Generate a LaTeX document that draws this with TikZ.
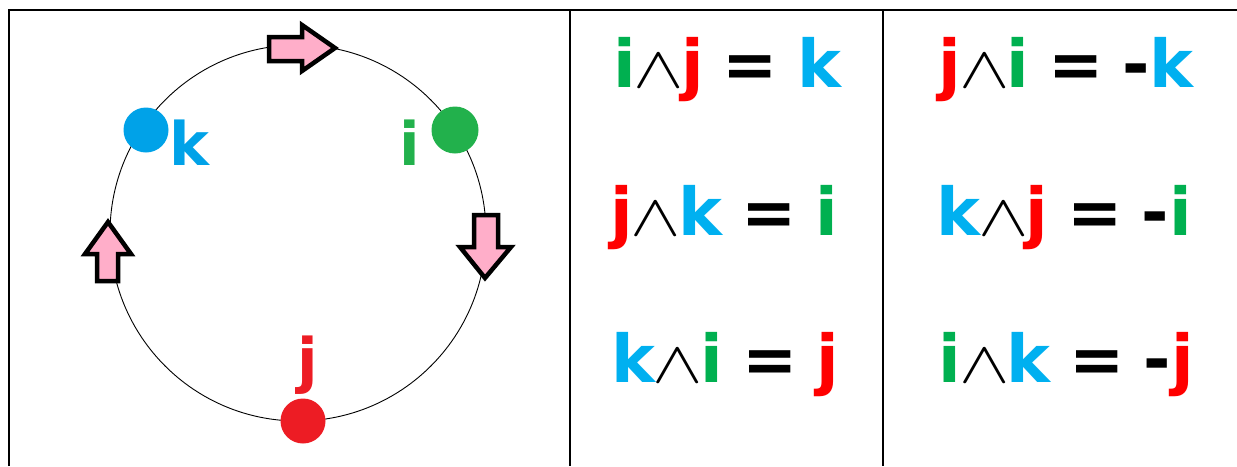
\documentclass[tikz,border=0pt]{standalone}
\usepackage{graphicx}
\usepackage{fontspec}
\setmainfont{DejaVu Sans}
\DeclareFontShape{OMS}{cmsy}{m}{n}{<->cmsy10}{}
\DeclareFontShape{OML}{cmm}{m}{it}{<->cmmi10}{}
\definecolor{eqg}{HTML}{00B050}
\definecolor{eqr}{HTML}{FF0000}
\definecolor{eqb}{HTML}{00B0F0}
\definecolor{dotb}{HTML}{00A2E8}
\definecolor{dotg}{HTML}{22B14C}
\definecolor{dotr}{HTML}{ED1C24}
\definecolor{pinkar}{HTML}{FFAEC9}
\newcommand{\eqtxt}{\fontsize{66}{70}\selectfont\bfseries}
\newcommand{\wdg}{\kern-2pt{\fontsize{62}{64}\selectfont\scalebox{1.22}[0.95]{$\wedge$}}\kern-3pt}
\newcommand{\eqsp}{\hspace{19pt}}
\begin{document}
\begin{tikzpicture}[x=1pt,y=-1pt,
  frame/.style={line width=2.5pt,black},
  divider/.style={line width=2pt,black},
  ring/.style={line width=0.9pt,black},
  dotstyle/.style={circle,inner sep=0pt,minimum size=45pt},
  lbl/.style={font=\fontsize{60}{64}\selectfont\bfseries,inner sep=0pt},
  eqn/.style={font=\eqtxt,inner sep=0pt,anchor=base},
  arrowshape/.style={draw=black,fill=pinkar,line width=4.5pt,line join=miter}]
\useasboundingbox (0,0) rectangle (1237,466);
% table frame
\draw[frame] (9,466) -- (9,10) -- (1237,10);
\draw[divider] (570,10) -- (570,466);
\draw[divider] (883,10) -- (883,466);
% circle
\node[circle,draw,ring,inner sep=0pt,minimum size=376pt] (ring) at (298,233) {};
% arrows
\draw[arrowshape] (269,37) -- (302,37) -- (302,25) -- (335,48) -- (302,71) -- (302,61) -- (269,61) -- cycle;
\draw[arrowshape] (474,215) -- (498,215) -- (498,247) -- (511,247) -- (485,278) -- (460,247) -- (474,247) -- cycle;
\draw[arrowshape] (97,281) -- (118,281) -- (118,254) -- (131,254) -- (108,222) -- (85,254) -- (97,254) -- cycle;
% dots
\node[dotstyle,fill=dotb] (dk) at (146,130) {};
\node[dotstyle,fill=dotg,minimum size=47pt] (di) at (455,130) {};
\node[dotstyle,fill=dotr] (dj) at (303,421) {};
% labels
\node[lbl,text=dotb,anchor=base west] (lk) at (169,165) {k};
\node[lbl,text=dotg,anchor=base] (li) at (410,165) {i};
\node[lbl,text=dotr,anchor=base] (lj) at (308,381) {j};
% equations column 2
\node[eqn] (e1) at (727,87) {\textcolor{eqg}{i}\wdg\textcolor{eqr}{j}\eqsp=\eqsp\textcolor{eqb}{k}};
\node[eqn] (e2) at (724,235) {\textcolor{eqr}{j}\wdg\textcolor{eqb}{k}\eqsp=\eqsp\textcolor{eqg}{i}};
\node[eqn] (e3) at (725,382) {\textcolor{eqb}{k}\wdg\textcolor{eqg}{i}\eqsp=\eqsp\textcolor{eqr}{j}};
% equations column 3
\node[eqn] (f1) at (1066,87) {\textcolor{eqr}{j}\wdg\textcolor{eqg}{i}\eqsp=\eqsp-\textcolor{eqb}{k}};
\node[eqn] (f2) at (1064,235) {\textcolor{eqb}{k}\wdg\textcolor{eqr}{j}\eqsp=\eqsp-\textcolor{eqg}{i}};
\node[eqn] (f3) at (1066,382) {\textcolor{eqg}{i}\wdg\textcolor{eqb}{k}\eqsp=\eqsp-\textcolor{eqr}{j}};
\end{tikzpicture}
\end{document}
